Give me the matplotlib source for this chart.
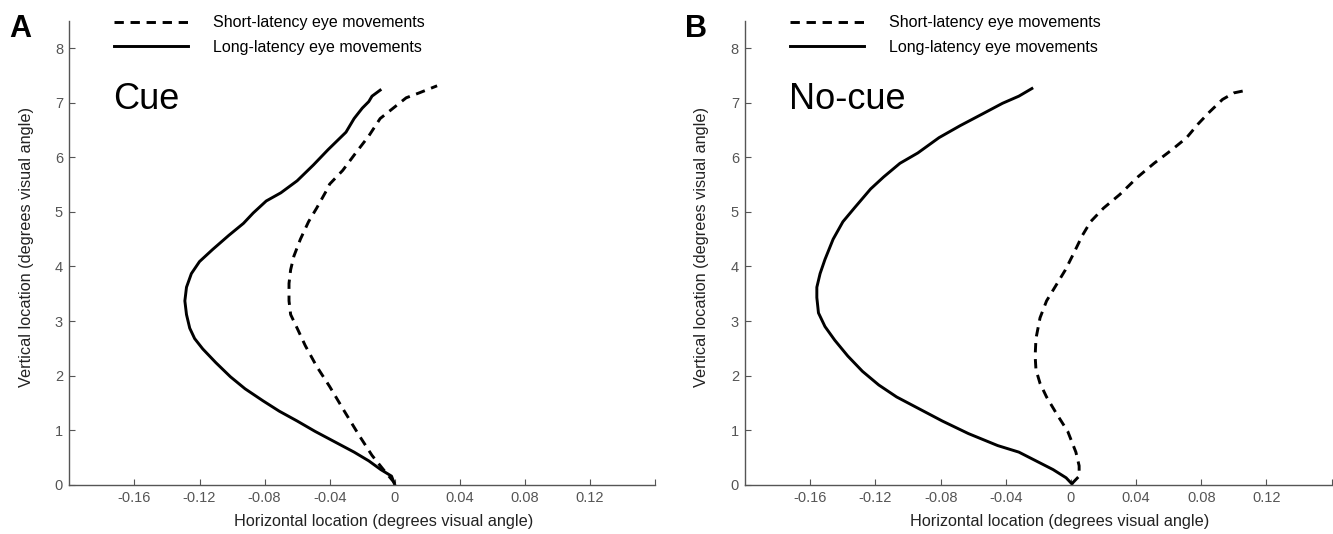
import matplotlib
matplotlib.use('Agg')
import matplotlib.pyplot as plt
import numpy as np

plt.rcParams['font.family'] = ['Liberation Sans', 'DejaVu Sans']

# panel A (cue) - traces
cue_long_x = [0.0, -0.002, -0.0086, -0.016, -0.025, -0.037, -0.049, -0.060, -0.071, -0.081,
              -0.092, -0.101, -0.110, -0.118, -0.123, -0.126, -0.128, -0.129, -0.128, -0.125,
              -0.120, -0.112, -0.102, -0.093, -0.087, -0.079, -0.070, -0.060, -0.050, -0.041,
              -0.030, -0.025, -0.020, -0.016, -0.014, -0.009]
cue_long_y = [0.0, 0.16, 0.28, 0.44, 0.60, 0.79, 0.98, 1.17, 1.35, 1.54,
              1.76, 1.98, 2.24, 2.49, 2.68, 2.87, 3.12, 3.37, 3.62, 3.87,
              4.09, 4.31, 4.57, 4.79, 4.98, 5.20, 5.35, 5.57, 5.86, 6.14,
              6.46, 6.71, 6.90, 7.02, 7.12, 7.23]
cue_short_x = [0.0, -0.007, -0.014, -0.022, -0.031, -0.040, -0.048, -0.055, -0.060, -0.064,
               -0.065, -0.065, -0.064, -0.062, -0.058, -0.053, -0.048, -0.042, -0.040, -0.032,
               -0.024, -0.016, -0.009, -0.001, 0.007, 0.015, 0.026]
cue_short_y = [0.03, 0.28, 0.54, 0.91, 1.35, 1.80, 2.17, 2.55, 2.87, 3.12,
               3.37, 3.69, 3.94, 4.19, 4.50, 4.82, 5.07, 5.39, 5.51, 5.76,
               6.08, 6.39, 6.71, 6.90, 7.09, 7.18, 7.31]

# panel B (no-cue)
nocue_long_x = [0.0005, -0.003, -0.011, -0.0215, -0.032, -0.045, -0.063, -0.079, -0.093, -0.107,
                -0.118, -0.128, -0.137, -0.145, -0.151, -0.155, -0.156, -0.156, -0.154, -0.151,
                -0.146, -0.140, -0.133, -0.123, -0.115, -0.105, -0.094, -0.081, -0.068, -0.054,
                -0.042, -0.032, -0.024]
nocue_long_y = [0.02, 0.13, 0.28, 0.44, 0.60, 0.72, 0.94, 1.17, 1.39, 1.61,
                1.83, 2.08, 2.36, 2.65, 2.90, 3.15, 3.43, 3.62, 3.87, 4.13,
                4.50, 4.82, 5.07, 5.42, 5.64, 5.89, 6.08, 6.36, 6.58, 6.80,
                6.99, 7.12, 7.26]
nocue_short_x = [0.0005, 0.005, 0.005, 0.003, -0.002, -0.0086, -0.015, -0.019, -0.0215, -0.022,
                 -0.0215, -0.019, -0.015, -0.0099, -0.0034, 0.0018, 0.007, 0.012, 0.020, 0.030,
                 0.041, 0.051, 0.062, 0.071, 0.078, 0.085, 0.093, 0.100, 0.108]
nocue_short_y = [0.02, 0.16, 0.35, 0.60, 0.98, 1.29, 1.61, 1.86, 2.11, 2.36,
                 2.68, 3.06, 3.37, 3.62, 3.94, 4.25, 4.57, 4.82, 5.07, 5.32,
                 5.64, 5.89, 6.14, 6.36, 6.61, 6.83, 7.06, 7.18, 7.23]

xticks = [-0.16, -0.12, -0.08, -0.04, 0, 0.04, 0.08, 0.12, 0.16]
xticklabels = ['-0.16', '-0.12', '-0.08', '-0.04', '0', '0.04', '0.08', '0.12', '']
yticks = [0, 1, 2, 3, 4, 5, 6, 7, 8]

legend_labels = ['Short-latency eye movements', 'Long-latency eye movements']

fig = plt.figure(figsize=(13.33, 5.34), dpi=100)
axA = fig.add_axes([0.052, 0.092, 0.4395, 0.869])
axB = fig.add_axes([0.559, 0.092, 0.440, 0.869])

panels = [
  (axA, cue_short_x, cue_short_y, cue_long_x, cue_long_y, 'Cue', 'A', 0.007),
  (axB, nocue_short_x, nocue_short_y, nocue_long_x, nocue_long_y, 'No-cue', 'B', 0.514),
]

for ax, sx, sy, lx, ly, name, letter, lx_fig in panels:
  ax.plot(sx, sy, color='black', lw=2.1, ls=(0, (3.2, 2.3)), label=legend_labels[0])
  ax.plot(lx, ly, color='black', lw=2.1, label=legend_labels[1])
  ax.set_xlim(-0.2, 0.16)
  ax.set_ylim(0, 8.5)
  ax.set_xticks(xticks)
  ax.set_xticklabels(xticklabels)
  ax.set_yticks(yticks)
  for side in ['top', 'right']:
    ax.spines[side].set_visible(False)
  for side in ['left', 'bottom']:
    ax.spines[side].set_color('#555555')
    ax.spines[side].set_linewidth(1.0)
  ax.tick_params(direction='in', length=4.3, width=0.8, color='#555555',
                 labelcolor='#555555', labelsize=10.5, pad=4.5)
  ax.set_xlabel('Horizontal location (degrees visual angle)', fontsize=11.7, color='#222222')
  ax.set_ylabel('Vertical location (degrees visual angle)', fontsize=11.7, color='#222222')
  ax.xaxis.set_label_coords(0.537, -0.062)
  ax.yaxis.set_label_coords(-0.061, 0.513)
  ax.text(0.075, 0.81, name, transform=ax.transAxes, fontsize=26, ha='left', va='baseline')
  ax.legend(loc='upper left', bbox_to_anchor=(0.077, 1.012), frameon=False, fontsize=11.5,
            handlelength=4.6, handletextpad=1.6, labelspacing=0.6, borderpad=0, borderaxespad=0)
  fig.text(lx_fig, 0.93, letter, fontsize=22, fontweight='bold', ha='left', va='baseline')

fig.savefig('out.png', dpi=100)
